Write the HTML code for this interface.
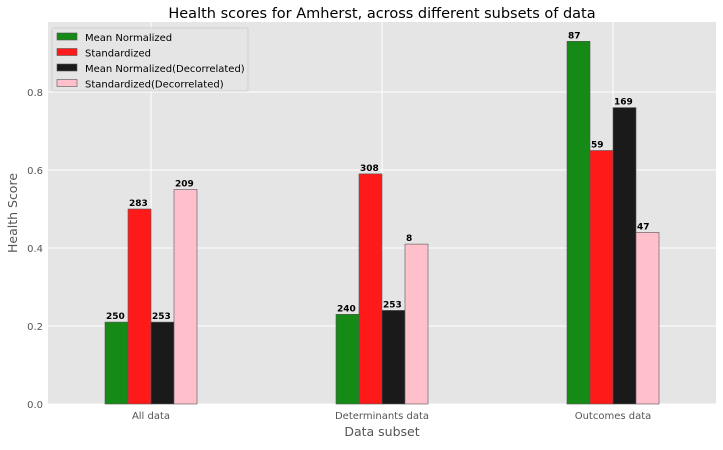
<!DOCTYPE html>
<html><head><meta charset="utf-8"><style>
body{margin:0;background:#fff;}
svg text{font-family:"DejaVu Sans","Liberation Sans",sans-serif;}
</style></head><body>
<svg id="c" width="723" height="445" xmlns="http://www.w3.org/2000/svg">
<rect x="48" y="22" width="668" height="382" fill="#e5e5e5"/>
<g id="grid"></g><g id="bars"></g><g id="axes"></g>
<text x="382" y="18" font-size="14.5" text-anchor="middle" fill="#000">Health scores for Amherst, across different subsets of data</text>
<text x="382" y="436" font-size="12.5" text-anchor="middle" fill="#555">Data subset</text>
<text x="17" y="213" font-size="12.5" text-anchor="middle" fill="#555" transform="rotate(-90 17 213)">Health Score</text>
<g id="legend"></g>
</svg>
<script>
const categories=["All data","Determinants data","Outcomes data"];
const seriesNames=["Mean Normalized","Standardized","Mean Normalized(Decorrelated)","Standardized(Decorrelated)"];
const meanNorm=[0.21,0.23,0.93];
const standardized=[0.5,0.59,0.65];
const meanNormDecor=[0.21,0.24,0.76];
const standardizedDecor=[0.55,0.41,0.44];
const labelsMeanNorm=["250","240","87"];
const labelsStd=["283","308","59"];
const labelsMeanNormDecor=["253","253","169"];
const labelsStdDecor=["209","8","47"];
const yTicks=[0,0.2,0.4,0.6,0.8];
const colors=["#168a16","#ff1a1a","#1a1a1a","#ffc0cb"];
const series=[meanNorm,standardized,meanNormDecor,standardizedDecor];
const labels=[labelsMeanNorm,labelsStd,labelsMeanNormDecor,labelsStdDecor];
const NS="http://www.w3.org/2000/svg";
const y=v=>404-v*390;
const xc=i=>151+i*231;
const bw=23;
function mk(tag,attrs,parent,txt){const e=document.createElementNS(NS,tag);for(const k in attrs)e.setAttribute(k,attrs[k]);if(txt!==undefined)e.textContent=txt;parent.appendChild(e);return e;}
const grid=document.getElementById('grid'),bars=document.getElementById('bars'),axes=document.getElementById('axes'),leg=document.getElementById('legend');
yTicks.forEach(t=>{
 const l=mk('line',{x1:48,x2:716,y1:y(t),y2:y(t),stroke:'#fff','stroke-width':1},grid);
 
 
 const tx=mk('text',{x:43,y:y(t)+4,'font-size':10,'text-anchor':'end',fill:'#555'},axes,t.toFixed(1));
 
 
});
categories.forEach((c,i)=>{
 const l=mk('line',{x1:xc(i),x2:xc(i),y1:22,y2:404,stroke:'#fff','stroke-width':1},grid);
 
 
 const tx=mk('text',{x:xc(i),y:419,'font-size':10,'text-anchor':'middle',fill:'#555'},axes,c);
 
 
});
series.forEach((s,si)=>{
 s.forEach((v,i)=>{
  const x0=xc(i)-2*bw+si*bw;
  const r=mk('rect',{x:x0,y:y(v),width:bw,height:404-y(v),fill:colors[si],stroke:'#555','stroke-width':0.6},bars);
  
  
  const t=mk('text',{x:x0+1,y:y(v)-3,'font-size':9,'font-weight':'bold',fill:'#000'},bars,labels[si][i]);
  
  
 });
});
mk('rect',{x:52,y:28,width:196,height:63,fill:'#e5e5e5',stroke:'#d0d0d0',rx:2},leg);
seriesNames.forEach((n,i)=>{
 const yy=37+i*15.5;
 const r=mk('rect',{x:57,y:yy-4,width:20,height:7,fill:colors[i],stroke:'#555','stroke-width':0.6},leg);
 
 
 const t=mk('text',{x:85,y:yy+4,'font-size':10,fill:'#000'},leg,n);
 
 
});
</script>
</body></html>
